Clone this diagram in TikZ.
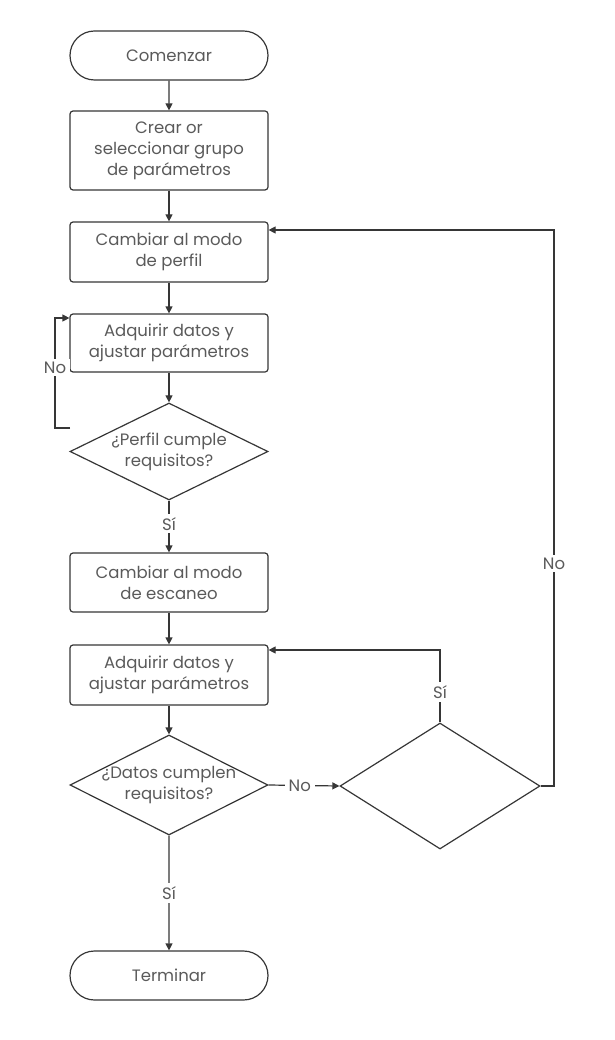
\documentclass[tikz,border=0pt]{standalone}
\usepackage{fontspec}
\setmainfont{Poppins}
\usetikzlibrary{shapes.geometric,shapes.misc,arrows.meta}
\definecolor{ln}{HTML}{363636}
\definecolor{tx}{HTML}{5a5a5a}
\tikzset{
  base/.style={draw=ln, line width=1.2pt, text=tx, font=\fontsize{16.5}{21}\selectfont, align=center, inner sep=0pt},
  term/.style={base, rounded rectangle, minimum width=198pt, minimum height=49pt},
  proc/.style={base, rectangle, rounded corners=3pt, minimum width=198pt},
  dec/.style={base, diamond, aspect=2, inner sep=-12pt, minimum width=198pt, minimum height=97pt},
  conn/.style={draw=ln, line width=1.2pt, -{Triangle[length=7pt,width=7pt]}},
  lbl/.style={text=tx, font=\fontsize{16.5}{21}\selectfont, inner xsep=4pt, inner ysep=3pt, fill=white}
}
\begin{document}
\begin{tikzpicture}[x=1pt,y=-1pt]
\useasboundingbox (0,0) rectangle (614,1040);
\node[term] (start) at (169,55.5) {Comenzar};
\node[proc, minimum height=79pt] (crear) at (169,150.5) {Crear or\\seleccionar grupo\\de parámetros};
\node[proc, minimum height=60pt] (perfil) at (169,252) {Cambiar al modo\\de perfil};
\node[proc, minimum height=58pt] (adq1) at (169,343) {Adquirir datos y\\ajustar parámetros};
\node[dec] (d1) at (169,451.5) {¿Perfil cumple\\requisitos?};
\node[proc, minimum height=59pt] (escaneo) at (169,582.5) {Cambiar al modo\\de escaneo};
\node[proc, minimum height=60pt] (adq2) at (169,675) {Adquirir datos y\\ajustar parámetros};
\node[dec, minimum height=100pt] (d2) at (169,785) {¿Datos cumplen\\requisitos?};
\node[dec, minimum width=200pt, minimum height=126pt] (d3) at (440,786) {};
\node[term] (end) at (169,975.5) {Terminar};

\coordinate (l1) at (70,428);
\coordinate (l2) at (55,428);
\coordinate (l3) at (55,318);
\coordinate (r1) at (554,786);
\coordinate (r2) at (554,230);

\draw[conn] (start) -- (crear);
\draw[conn] (crear) -- (perfil);
\draw[conn] (perfil) -- (adq1);
\draw[conn] (adq1) -- (d1);
\draw[conn] (l1) -- (l2) -- node[lbl, pos=0.55] {No} (l3) -- (adq1.west |- l3);
\draw[conn] (d1) -- node[lbl, pos=0.45] {Sí} (escaneo);
\draw[conn] (escaneo) -- (adq2);
\draw[conn] (adq2) -- (d2);
\draw[conn] (d2) -- node[lbl, pos=0.5] {Sí} (end);
\draw[conn] (d2.east) -- node[lbl, pos=0.44] {No} (d3.west);
\draw[conn] (d3.north) -- node[lbl, pos=0.42] {Sí} (d3.north |- 0,650) -- (adq2.east |- 0,650);
\draw[conn] (d3.east) -- (r1) -- node[lbl, pos=0.4] {No} (r2) -- (perfil.east |- r2);
\end{tikzpicture}
\end{document}
